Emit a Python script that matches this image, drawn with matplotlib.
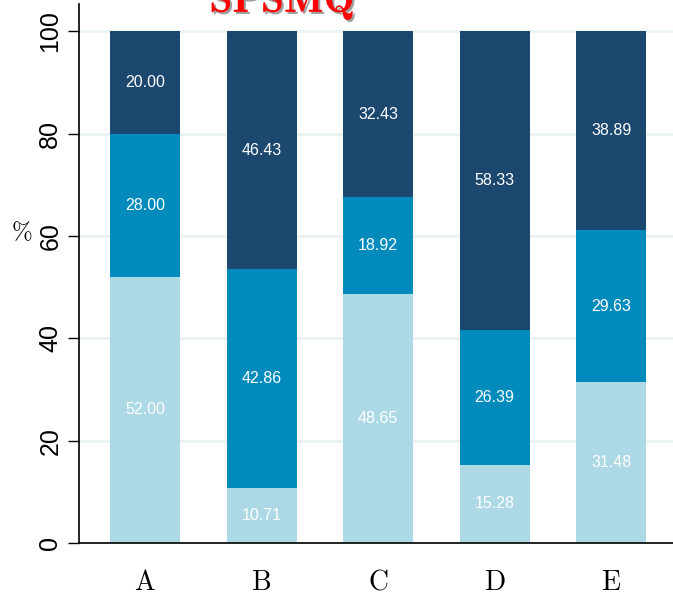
import matplotlib
matplotlib.use("Agg")
import matplotlib.pyplot as plt
import matplotlib.patheffects as pe
import numpy as np

plt.rcParams["mathtext.fontset"] = "cm"

CATEGORIES = ["A", "B", "C", "D", "E"]
BOTTOM = [52.00, 10.71, 48.65, 15.28, 31.48]
MIDDLE = [28.00, 42.86, 18.92, 26.39, 29.63]
TOP = [20.00, 46.43, 32.43, 58.33, 38.89]
COLORS = ["#add8e6", "#008bbc", "#1c4870"]
SANS = ["Liberation Sans", "DejaVu Sans"]

fig = plt.figure(figsize=(6.73, 5.97), dpi=100)
ax = fig.add_axes([0.1174, 0.0905, 0.8826, 0.9025])

x = np.arange(len(CATEGORIES))
base = np.zeros(len(CATEGORIES))
for values, color in zip([BOTTOM, MIDDLE, TOP], COLORS):
    values = np.array(values)
    ax.bar(x, values, 0.6, bottom=base, color=color, zorder=2)
    for xi, b, v in zip(x, base, values):
        ax.text(xi, b + v / 2, f"{v:.2f}", ha="center", va="center",
                color="white", fontsize=11.5, family=SANS, zorder=3)
    base += values

ax.set_xlim(-0.566, 4.53)
ax.set_ylim(0, 105.3)
ax.set_yticks([0, 20, 40, 60, 80, 100])
ax.set_yticklabels(["0", "20", "40", "60", "80", "100"], rotation=90,
                   va="center", family=SANS, fontsize=18)
ax.set_xticks(x)
ax.set_xticklabels([rf"$\mathrm{{{c}}}$" for c in CATEGORIES], fontsize=20)
ax.tick_params(axis="x", length=0, pad=18)
ax.tick_params(axis="y", length=8, width=1, pad=4)
ax.grid(axis="y", color="#eaf2f3", linewidth=2, zorder=0)
for s in ["top", "right"]:
    ax.spines[s].set_visible(False)
for s in ["left", "bottom"]:
    ax.spines[s].set_linewidth(1.2)

fig.text(22 / 673, 1 - 232 / 597, r"$\%$", fontsize=18, ha="center", va="center")
fig.text(282 / 673, 1 - 12 / 597, r"$\mathbf{SPSMQ}$", fontsize=30, color="red",
         ha="center", va="baseline",
         path_effects=[pe.withSimplePatchShadow(offset=(1.5, -1.5), shadow_rgbFace="#888888", alpha=0.8)])

fig.savefig("out.png", dpi=100)
